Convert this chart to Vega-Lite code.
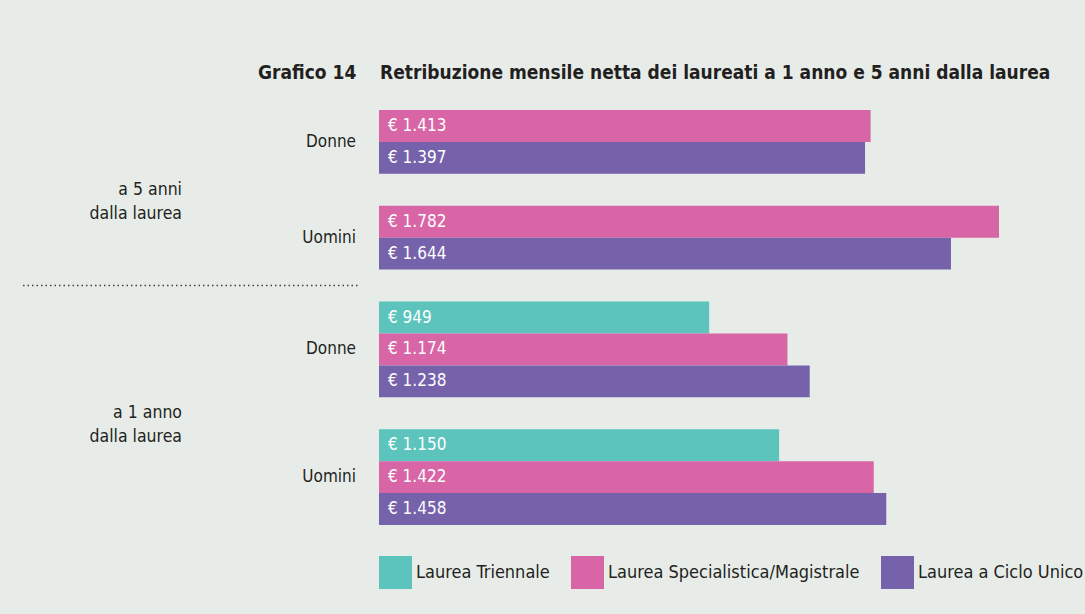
{
  "$schema": "https://vega.github.io/schema/vega-lite/v6.json",
  "width": 660,
  "height": 415,
  "autosize": {"type": "none"},
  "padding": {"left": 379, "top": 110, "right": 46, "bottom": 89},
  "background": "#e7ece9",
  "config": {
    "view": {"stroke": null},
    "font": "DejaVu Sans Condensed",
    "locale": {"number": {"decimal": ",", "thousands": ".", "grouping": [3], "currency": ["€ ", ""]}}
  },
  "title": {
    "text": "Grafico 14\u00a0\u00a0\u00a0\u00a0Retribuzione mensile netta dei laureati a 1 anno e 5 anni dalla laurea",
    "anchor": "start",
    "frame": "group",
    "dx": -121,
    "fontSize": 19,
    "font": "DejaVu Sans Condensed",
    "fontWeight": "bold",
    "color": "#231f20",
    "offset": 27
  },
  "datasets": {
    "barre": [
      {"periodo": "a 5 anni", "genere": "Donne", "tipo": "Laurea Specialistica/Magistrale", "valore": 1413, "slot": "5D-S"},
      {"periodo": "a 5 anni", "genere": "Donne", "tipo": "Laurea a Ciclo Unico", "valore": 1397, "slot": "5D-C"},
      {"periodo": "a 5 anni", "genere": "Uomini", "tipo": "Laurea Specialistica/Magistrale", "valore": 1782, "slot": "5U-S"},
      {"periodo": "a 5 anni", "genere": "Uomini", "tipo": "Laurea a Ciclo Unico", "valore": 1644, "slot": "5U-C"},
      {"periodo": "a 1 anno", "genere": "Donne", "tipo": "Laurea Triennale", "valore": 949, "slot": "1D-T"},
      {"periodo": "a 1 anno", "genere": "Donne", "tipo": "Laurea Specialistica/Magistrale", "valore": 1174, "slot": "1D-S"},
      {"periodo": "a 1 anno", "genere": "Donne", "tipo": "Laurea a Ciclo Unico", "valore": 1238, "slot": "1D-C"},
      {"periodo": "a 1 anno", "genere": "Uomini", "tipo": "Laurea Triennale", "valore": 1150, "slot": "1U-T"},
      {"periodo": "a 1 anno", "genere": "Uomini", "tipo": "Laurea Specialistica/Magistrale", "valore": 1422, "slot": "1U-S"},
      {"periodo": "a 1 anno", "genere": "Uomini", "tipo": "Laurea a Ciclo Unico", "valore": 1458, "slot": "1U-C"}
    ],
    "generi": [
      {"testo": "Donne", "slot": "5D-S", "posizione": "bordo"},
      {"testo": "Uomini", "slot": "5U-S", "posizione": "bordo"},
      {"testo": "Donne", "slot": "1D-S", "posizione": "centro"},
      {"testo": "Uomini", "slot": "1U-S", "posizione": "centro"}
    ],
    "periodi": [
      {"testo": "a 5 anni\ndalla laurea", "slot": "g5"},
      {"testo": "a 1 anno\ndalla laurea", "slot": "g1"}
    ]
  },
  "layer": [
    {
      "data": {"name": "barre"},
      "mark": {"type": "bar"},
      "encoding": {
        "y": {
          "field": "slot",
          "type": "nominal",
          "scale": {
            "domain": ["5D-S", "5D-C", "g5", "5U-S", "5U-C", "gsep", "1D-T", "1D-S", "1D-C", "g1", "1U-T", "1U-S", "1U-C"],
            "paddingInner": 0,
            "paddingOuter": 0
          },
          "axis": {
            "values": ["gsep"],
            "labels": false,
            "domain": false,
            "ticks": true,
            "tickSize": 335,
            "tickDash": [1.5, 3],
            "tickColor": "#444",
            "tickWidth": 1.5,
            "offset": 22,
            "title": null,
            "grid": false
          }
        },
        "x": {"field": "valore", "type": "quantitative", "scale": {"domain": [0, 1897], "nice": false}, "axis": null},
        "color": {
          "field": "tipo",
          "type": "nominal",
          "scale": {
            "domain": ["Laurea Triennale", "Laurea Specialistica/Magistrale", "Laurea a Ciclo Unico"],
            "range": ["#5cc4bc", "#d865a6", "#7562ab"]
          },
          "legend": {
            "title": null,
            "orient": "bottom",
            "direction": "horizontal",
            "symbolType": "square",
            "symbolSize": 1089,
            "symbolStrokeWidth": 0,
            "symbolOpacity": 1,
            "labelFontSize": 18,
            "labelFont": "DejaVu Sans Condensed",
            "labelColor": "#231f20",
            "labelOffset": 4,
            "labelLimit": 400,
            "columnPadding": 21,
            "offset": 31,
            "padding": 0
          }
        }
      }
    },
    {
      "data": {"name": "barre"},
      "mark": {"type": "text", "align": "left", "baseline": "middle", "dx": 9, "fontSize": 17, "color": "white", "font": "DejaVu Sans Condensed"},
      "encoding": {
        "y": {"field": "slot", "type": "nominal"},
        "x": {"datum": 0, "type": "quantitative"},
        "text": {"field": "valore", "type": "quantitative", "format": "$,.0f"}
      }
    },
    {
      "data": {"name": "generi"},
      "transform": [{"filter": "datum.posizione == 'bordo'"}],
      "mark": {"type": "text", "align": "right", "baseline": "middle", "dx": -23, "fontSize": 17, "color": "#231f20", "font": "DejaVu Sans Condensed"},
      "encoding": {
        "y": {"field": "slot", "type": "nominal", "bandPosition": 1},
        "x": {"datum": 0, "type": "quantitative"},
        "text": {"field": "testo", "type": "nominal"}
      }
    },
    {
      "data": {"name": "generi"},
      "transform": [{"filter": "datum.posizione == 'centro'"}],
      "mark": {"type": "text", "align": "right", "baseline": "middle", "dx": -23, "fontSize": 17, "color": "#231f20", "font": "DejaVu Sans Condensed"},
      "encoding": {
        "y": {"field": "slot", "type": "nominal"},
        "x": {"datum": 0, "type": "quantitative"},
        "text": {"field": "testo", "type": "nominal"}
      }
    },
    {
      "data": {"name": "periodi"},
      "mark": {"type": "text", "align": "right", "baseline": "middle", "dx": -197, "fontSize": 17.5, "lineHeight": 24, "lineBreak": "\n", "color": "#231f20", "font": "DejaVu Sans Condensed"},
      "encoding": {
        "y": {"field": "slot", "type": "nominal"},
        "x": {"datum": 0, "type": "quantitative"},
        "text": {"field": "testo", "type": "nominal"}
      }
    }
  ]
}
